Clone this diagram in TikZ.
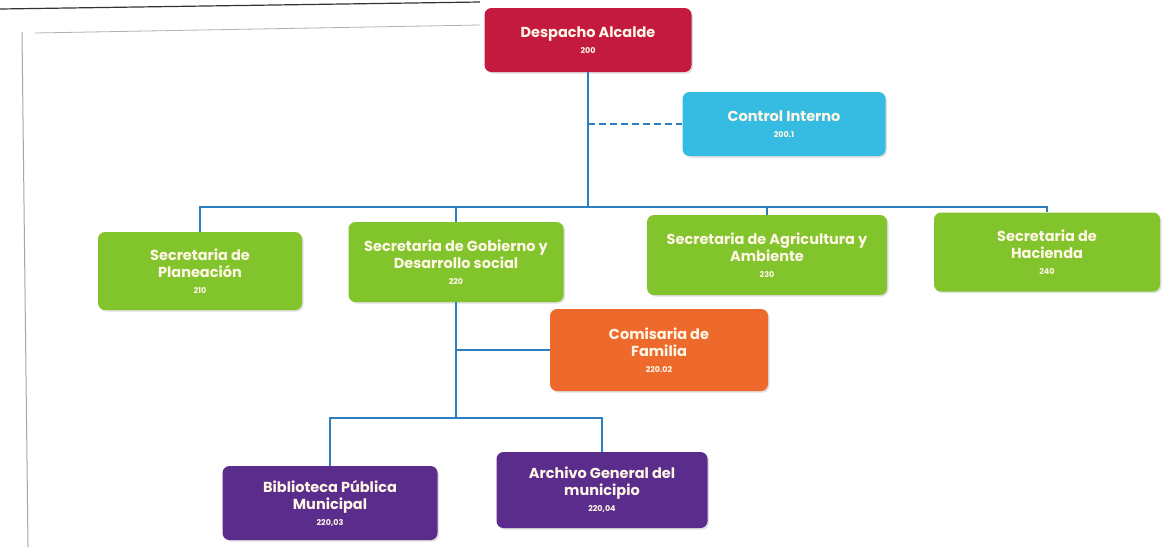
\documentclass[tikz,border=0pt]{standalone}
\usepackage{fontspec}
\setmainfont{Poppins}
\usetikzlibrary{shadows}
\definecolor{alcred}{HTML}{C41A40}
\definecolor{ctlcyan}{HTML}{36BCE2}
\definecolor{secgreen}{HTML}{82C42C}
\definecolor{comorange}{HTML}{EE6A2C}
\definecolor{bibpurple}{HTML}{5A2D8C}
\definecolor{linkblue}{HTML}{2F7FC0}
\definecolor{txtcream}{HTML}{FFF6E6}
\tikzset{
  orgbox/.style={rounded corners=7pt, text=txtcream, align=center,
     font=\bfseries\fontsize{14.5}{17}\selectfont, inner sep=2pt,
     drop shadow={shadow xshift=1.5pt, shadow yshift=-1.5pt, opacity=0.25}},
  conn/.style={draw=linkblue, line width=1.8pt},
  frameline/.style={draw=gray!70, line width=1pt}
}
\newcommand{\orgnum}[1]{\\[-1pt]{\fontsize{8}{10}\selectfont #1}}
\begin{document}
\begin{tikzpicture}[x=1pt,y=-1pt]
\useasboundingbox (0,0) rectangle (1163,547);
\fill[white] (0,0) rectangle (1163,547);
% page frame lines
\draw[frameline] (22,32) -- (28,547);
\draw[draw=gray!60, line width=0.8pt] (35,33) -- (480,25);
\draw[draw=black!80, line width=1.2pt] (0,9) -- (480,2);

% nodes
\node[orgbox, fill=alcred, minimum width=207pt, minimum height=64pt] (alc) at (588,40) {Despacho Alcalde\orgnum{200}};
\node[orgbox, fill=ctlcyan, minimum width=203pt, minimum height=64pt] (ci) at (784,124) {Control Interno\orgnum{200.1}};
\node[orgbox, fill=secgreen, minimum width=204pt, minimum height=78pt] (pla) at (200,271) {Secretaria de\\Planeación\orgnum{210}};
\node[orgbox, fill=secgreen, minimum width=215pt, minimum height=80pt] (gob) at (456,262) {Secretaria de Gobierno y\\Desarrollo social\orgnum{220}};
\node[orgbox, fill=secgreen, minimum width=240pt, minimum height=80pt] (agr) at (767,255) {Secretaria de Agricultura y\\Ambiente\orgnum{230}};
\node[orgbox, fill=secgreen, minimum width=226pt, minimum height=79pt] (hac) at (1047,252) {Secretaria de\\Hacienda\orgnum{240}};
\node[orgbox, fill=comorange, minimum width=218pt, minimum height=82pt] (com) at (659,350) {Comisaria de\\Familia\orgnum{220.02}};
\node[orgbox, fill=bibpurple, minimum width=215pt, minimum height=74pt] (bib) at (330,503) {Biblioteca Pública\\Municipal\orgnum{220,03}};
\node[orgbox, fill=bibpurple, minimum width=211pt, minimum height=76pt] (arc) at (602,490) {Archivo General del\\municipio\orgnum{220,04}};

% connectors
\coordinate (bus) at (0,207);
\coordinate (lowbus) at (0,418);
\draw[conn] (alc.south) -- (alc.south |- bus) -| (pla.north);
\draw[conn] (alc.south |- bus) -| (gob.north);
\draw[conn] (alc.south |- bus) -| (agr.north);
\draw[conn] (alc.south |- bus) -| (hac.north);
\draw[conn, dashed, dash pattern=on 7pt off 4pt] (alc.south |- ci.west) -- (ci.west);
\draw[conn] (gob.south) -- (gob.south |- lowbus);
\draw[conn] (gob.south |- com.west) -- (com.west);
\draw[conn] (gob.south |- lowbus) -| (bib.north);
\draw[conn] (gob.south |- lowbus) -| (arc.north);
\end{tikzpicture}
\end{document}
